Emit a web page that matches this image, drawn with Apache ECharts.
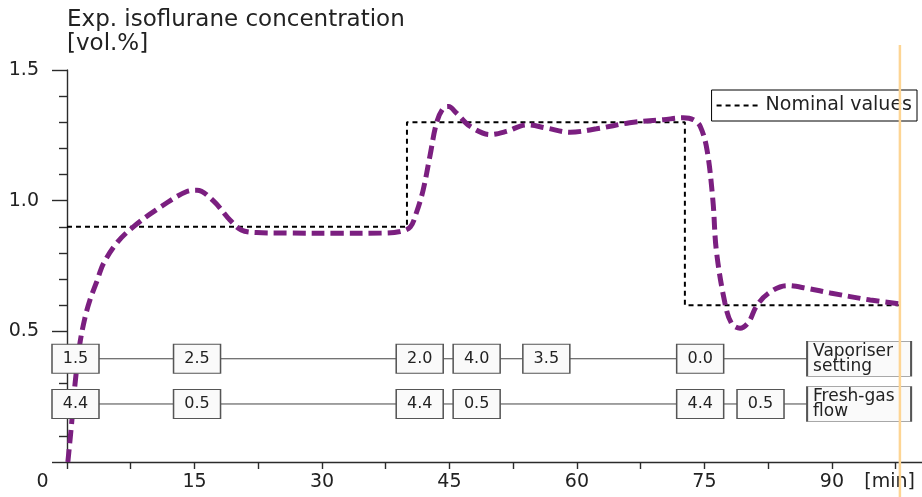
<!DOCTYPE html>
<html>
<head>
<meta charset="utf-8">
<script src="https://cdn.jsdelivr.net/npm/echarts@6/dist/echarts.min.js"></script>
<style>
  html, body { margin: 0; padding: 0; background: #ffffff; }
  #chart { width: 922px; height: 497px; }
</style>
</head>
<body>
<div id="chart"></div>
<script>
// Measured expiratory isoflurane concentration [vol.%] against time [min]
const measuredTime = [0.1, 0.55, 0.95, 1.5, 2.1, 2.7, 3.5, 4.3, 5.9, 7.8, 10.5, 14.1, 15.3, 17.2, 19.2, 20.5, 22.3, 26, 32, 37,
  39.2, 40.4, 41.1, 41.9, 42.7, 43.5, 44.3, 44.9, 45.8, 47.4, 49.8, 51.7, 54.1, 56.4, 59.2, 62.3, 66.2, 70.2, 72.5, 73.7,
  74.5, 75.3, 76.0, 76.4, 77.4, 78.2, 79.2, 80.2, 81.1, 82.5, 84.7, 87, 89.8, 94.5, 98];
const measuredConc = [0, 0.15, 0.30, 0.45, 0.55, 0.62, 0.69, 0.76, 0.84, 0.90, 0.965, 1.035, 1.04, 1.0, 0.925, 0.888, 0.878, 0.876, 0.875, 0.876,
  0.882, 0.90, 0.953, 1.04, 1.17, 1.30, 1.355, 1.36, 1.336, 1.285, 1.253, 1.265, 1.29, 1.278, 1.262, 1.275, 1.298, 1.31, 1.317, 1.31,
  1.285, 1.195, 1.0, 0.81, 0.61, 0.53, 0.512, 0.535, 0.595, 0.645, 0.675, 0.665, 0.647, 0.62, 0.605];

// Nominal (target) concentration, stepwise
const nominalTime = [0, 40, 40, 72.7, 72.7, 98];
const nominalConc = [0.9, 0.9, 1.3, 1.3, 0.6, 0.6];

// Vaporiser dial settings and the times they were placed
const vaporiserTime = [1.0, 15.3, 41.5, 48.2, 56.4, 74.5];
const vaporiserSetting = ['1.5', '2.5', '2.0', '4.0', '3.5', '0.0'];

// Fresh-gas flow settings and their times
const freshGasTime = [1.0, 15.3, 41.5, 48.2, 74.5, 81.6];
const freshGasFlow = ['4.4', '0.5', '4.4', '0.5', '4.4', '0.5'];

// Row captions and end of the recording
const rowCaptions = ['Vaporiser\nsetting', 'Fresh-gas\nflow'];
const rowCaptionTime = 93.2;
const endTime = 98;

// Axis ticks and labels
const xTickValues = [0, 7.5, 15, 22.5, 30, 37.5, 45, 52.5, 60, 67.5, 75, 82.5, 90, 97.5];
const xLabelValues = [0, 15, 30, 45, 60, 75, 90, 97.5];
const xLabelTexts = ['0', '15', '30', '45', '60', '75', '90', '[min]'];
const yLabelValues = [0.5, 1.0, 1.5];
const yLabelTexts = ['0.5', '1.0', '1.5'];

// Layout: vertical placement of the two settings rows (in axis units)
const ROW_Y = [0.395, 0.222];
const FONT = 'DejaVu Sans';
const INK = '#222222';

const chart = echarts.init(document.getElementById('chart'), null, { renderer: 'canvas' });

function boxRow(times, texts, y) {
  return times.map((t, i) => ({ value: [t, y], text: texts[i] }));
}

const boxStyle = { color: '#fafafa', borderColor: '#555555', borderWidth: 1.2, opacity: 1 };

const option = {
  animation: false,
  backgroundColor: '#ffffff',
  title: {
    text: 'Exp. isoflurane concentration\n[vol.%]',
    left: 67,
    top: 8,
    padding: 0,
    textStyle: { fontFamily: FONT, fontSize: 23, fontWeight: 'normal', color: INK, lineHeight: 24 }
  },
  legend: {
    data: ['Nominal values'],
    right: 5,
    top: 90,
    padding: [6, 5, 6, 4],
    borderColor: '#000000',
    borderWidth: 1,
    itemWidth: 44,
    itemHeight: 14,
    itemStyle: { color: 'rgba(0,0,0,0)', borderColor: 'rgba(0,0,0,0)', borderWidth: 0 },
    textStyle: { fontFamily: FONT, fontSize: 19, color: INK }
  },
  grid: { left: 67, right: 0, top: 70, bottom: 35, containLabel: false },
  xAxis: {
    type: 'value',
    min: 0,
    max: 100.6,
    interval: 7.5,
    splitLine: { show: false },
    axisLine: { onZero: false, lineStyle: { color: '#2b2b2b', width: 1.4 } },
    axisTick: { show: true, length: 7, customValues: xTickValues, lineStyle: { color: '#2b2b2b', width: 1.4 } },
    axisLabel: {
      customValues: xLabelValues,
      margin: 11,
      fontFamily: FONT,
      fontSize: 19,
      color: INK,
      formatter: (v) => {
        const i = xLabelValues.indexOf(v);
        if (i < 0) return '';
        if (v === 0) return '{o|' + xLabelTexts[i] + '}';
        if (i === xLabelValues.length - 1) return '{u|' + xLabelTexts[i] + '}';
        return xLabelTexts[i];
      },
      rich: {
        o: { fontFamily: FONT, fontSize: 19, color: INK, padding: [0, 49, 0, 0] },
        u: { fontFamily: FONT, fontSize: 19, color: INK, padding: [0, 12, 0, 0] }
      }
    }
  },
  yAxis: {
    type: 'value',
    min: 0,
    max: 1.5,
    interval: 0.5,
    splitLine: { show: false },
    axisLine: { lineStyle: { color: '#2b2b2b', width: 1.4 } },
    axisTick: { show: true, length: 15, lineStyle: { color: '#2b2b2b', width: 1.4 } },
    minorTick: { show: true, splitNumber: 5, length: 8, lineStyle: { color: '#2b2b2b', width: 1.4 } },
    axisLabel: {
      margin: 28,
      fontFamily: FONT,
      fontSize: 19,
      color: INK,
      formatter: (v) => {
        const i = yLabelValues.findIndex((y) => Math.abs(y - v) < 1e-9);
        return i < 0 ? '' : yLabelTexts[i];
      }
    }
  },
  series: [
    {
      name: 'Nominal values',
      type: 'line',
      data: nominalTime.map((t, i) => [t, nominalConc[i]]),
      symbol: 'none',
      lineStyle: { color: '#000000', width: 2, type: [5, 4] },
      itemStyle: { color: '#000000' },
      z: 3
    },
    {
      name: 'Measured',
      type: 'line',
      data: measuredTime.map((t, i) => [t, measuredConc[i]]),
      symbol: 'none',
      smooth: 0.35,
      lineStyle: { color: '#7b1f80', width: 5, type: [13, 6] },
      z: 4
    },
    // connector lines behind the setting boxes
    {
      name: 'vaporiser-row',
      type: 'line',
      data: [[vaporiserTime[0], ROW_Y[0]], [rowCaptionTime, ROW_Y[0]]],
      symbol: 'none',
      silent: true,
      lineStyle: { color: '#444444', width: 1 },
      z: 5
    },
    {
      name: 'fresh-gas-row',
      type: 'line',
      data: [[freshGasTime[0], ROW_Y[1]], [rowCaptionTime, ROW_Y[1]]],
      symbol: 'none',
      silent: true,
      lineStyle: { color: '#444444', width: 1 },
      z: 5
    },
    {
      name: 'vaporiser',
      type: 'scatter',
      data: boxRow(vaporiserTime, vaporiserSetting, ROW_Y[0]),
      symbol: 'rect',
      symbolSize: [47, 29],
      itemStyle: boxStyle,
      label: { show: true, position: 'inside', fontFamily: FONT, fontSize: 16, color: INK, formatter: (p) => p.data.text },
      z: 6
    },
    {
      name: 'fresh-gas',
      type: 'scatter',
      data: boxRow(freshGasTime, freshGasFlow, ROW_Y[1]),
      symbol: 'rect',
      symbolSize: [47, 29],
      itemStyle: boxStyle,
      label: { show: true, position: 'inside', fontFamily: FONT, fontSize: 16, color: INK, formatter: (p) => p.data.text },
      z: 6
    },
    {
      name: 'captions',
      type: 'scatter',
      data: ROW_Y.map((y, i) => ({ value: [rowCaptionTime, y], text: rowCaptions[i] })),
      symbol: 'rect',
      symbolSize: [104, 35],
      itemStyle: boxStyle,
      label: {
        show: true, position: 'insideLeft', distance: 7, align: 'left',
        fontFamily: FONT, fontSize: 17, lineHeight: 15, color: INK,
        formatter: (p) => p.data.text
      },
      z: 6
    },
    // end-of-recording marker
    {
      name: 'end',
      type: 'custom',
      clip: false,
      silent: true,
      data: [[endTime, 1.5]],
      renderItem: (params, api) => {
        const p = api.coord([api.value(0), api.value(1)]);
        return {
          type: 'line',
          shape: { x1: p[0], y1: p[1] - 25, x2: p[0], y2: api.getHeight() },
          style: { stroke: '#fdd594', lineWidth: 2.5 }
        };
      },
      z: 10
    }
  ]
};

chart.setOption(option);
</script>
</body>
</html>
